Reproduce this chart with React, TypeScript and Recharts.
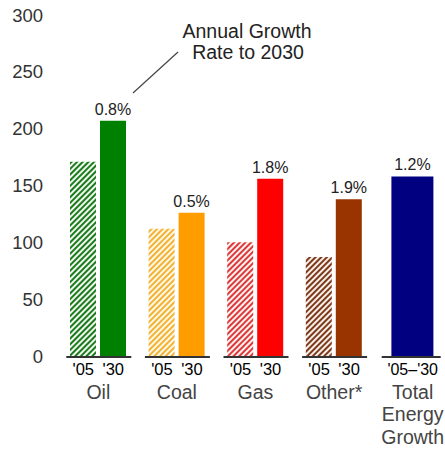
import React from 'react';
import { BarChart, Bar, XAxis, YAxis, Cell, LabelList } from 'recharts';

// Energy demand by fuel, 2005 vs 2030, with annual growth rate to 2030
const fuels = ['Oil', 'Coal', 'Gas', 'Other*', 'Total'];
const demand2005 = [171, 112, 100, 87, null];
const demand2030 = [207, 126, 156, 138, null];
const totalDemand = [null, null, null, null, 158];
const growthRates = ['0.8%', '0.5%', '1.8%', '1.9%', '1.2%'];
const yearTicks = ["'05", "'30"];
const spanTick = "'05\u2013'30";
const totalTitle = ['Total', 'Energy', 'Growth'];
const yTicks = [0, 50, 100, 150, 200, 250, 300];

const solidColors = ['#008000', '#ff9c00', '#ff0000', '#993300', '#000080'];
const stripeColors = ['#1d7a1d', '#f2b235', '#dc3a3a', '#7d3a1c'];
const stripeBacks = ['#eef8ee', '#fff8e4', '#fff0f0', '#f8efe8'];

const FONT = '"Liberation Sans", Arial, sans-serif';

const data = fuels.map((name, i) => ({
  name,
  y2005: demand2005[i],
  y2030: demand2030[i],
  total: totalDemand[i],
  rate2030: demand2030[i] != null ? growthRates[i] : null,
  rateTotal: totalDemand[i] != null ? growthRates[i] : null,
}));

function FuelTick(props: any) {
  const { x, y, payload, index } = props;
  const isTotal = index === fuels.length - 1;
  const lineL = isTotal ? x - 31 : x - 32;
  const lineR = isTotal ? x + 28 : x + 33;
  const title = isTotal ? totalTitle : [payload.value];
  return (
    <g fontFamily={FONT}>
      <line x1={lineL} x2={lineR} y1={y + 1} y2={y + 1} stroke="#333" strokeWidth={2} />
      {isTotal ? (
        <text x={x} y={y + 13} dy="0.35em" textAnchor="middle" fontSize={16} fill="#000">
          {spanTick}
        </text>
      ) : (
        yearTicks.map((t, k) => (
          <text key={t} x={x + (k === 0 ? -15 : 15)} y={y + 13} dy="0.35em" textAnchor="middle" fontSize={16.5} fill="#000">
            {t}
          </text>
        ))
      )}
      {title.map((line, k) => (
        <text key={line} x={x} y={y + 36 + k * 22.5} dy="0.35em" textAnchor="middle" fontSize={19.5} fill="#444">
          {line}
        </text>
      ))}
    </g>
  );
}

export default function App() {
  return (
    <div style={{ position: 'absolute', left: 0, top: 0, width: 445, height: 452, overflow: 'hidden', background: '#fff' }}>
      <BarChart
        width={452}
        height={452}
        data={data}
        margin={{ top: 15, right: 0, bottom: 0, left: 0 }}
        barGap={4}
      >
        <defs>
          {stripeColors.map((c, i) => (
            <pattern
              key={i}
              id={`hatch-${i}`}
              patternUnits="userSpaceOnUse"
              width={4}
              height={4}
              patternTransform="rotate(45)"
            >
              <rect width={4} height={4} fill={stripeBacks[i]} />
              <rect width={2} height={4} fill={c} />
            </pattern>
          ))}
        </defs>
        <XAxis
          xAxisId="fuel"
          dataKey="name"
          height={96}
          axisLine={false}
          tickLine={false}
          tickSize={0}
          tickMargin={0}
          interval={0}
          tick={<FuelTick />}
        />
        <XAxis xAxisId="total" dataKey="name" hide />
        <YAxis
          width={59}
          domain={[0, 300]}
          ticks={yTicks}
          axisLine={false}
          tickLine={false}
          tickSize={0}
          tickMargin={16}
          tick={{ fontSize: 18.5, fill: '#333', fontFamily: FONT }}
        />
        <Bar xAxisId="fuel" dataKey="y2005" barSize={26} isAnimationActive={false}>
          {data.map((_, i) => (
            <Cell key={i} fill={i < stripeColors.length ? `url(#hatch-${i})` : 'none'} />
          ))}
        </Bar>
        <Bar xAxisId="fuel" dataKey="y2030" barSize={26} isAnimationActive={false}>
          {data.map((_, i) => (
            <Cell key={i} fill={solidColors[i]} />
          ))}
          <LabelList dataKey="rate2030" position="top" offset={6} fontSize={16} fill="#222" fontFamily={FONT} />
        </Bar>
        <Bar xAxisId="total" dataKey="total" barSize={42} fill={solidColors[4]} isAnimationActive={false}>
          <LabelList dataKey="rateTotal" position="top" offset={6} fontSize={16} fill="#222" fontFamily={FONT} />
        </Bar>
      </BarChart>
      <svg width={445} height={452} style={{ position: 'absolute', left: 0, top: 0, pointerEvents: 'none' }}>
        <g fontFamily={FONT} fontSize={19.5} fill="#222" textAnchor="middle">
          <text x={247} y={31} dy="0.35em">Annual Growth</text>
          <text x={248} y={52} dy="0.35em">Rate to 2030</text>
        </g>
        <line x1={133} y1={93} x2={178} y2={52} stroke="#444" strokeWidth={1.2} />
      </svg>
    </div>
  );
}
